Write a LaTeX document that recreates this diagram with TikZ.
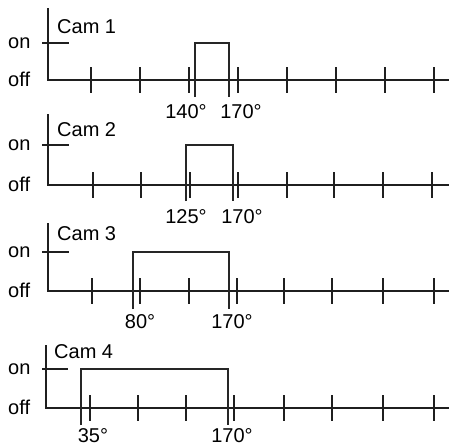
\documentclass[tikz,border=0pt]{standalone}
\usepackage{fontspec}
\setmainfont{Liberation Sans}
\usepackage{tikz}
\usetikzlibrary{positioning}

\begin{document}
\begin{tikzpicture}[x=1pt, y=-1pt,
  axis/.style={line width=2.2pt, draw=black!88},
  tick/.style={line width=2.8pt, draw=black!88},
  pulse/.style={line width=2.2pt, draw=black!85},
  lvl/.style={anchor=west, inner sep=0pt, font=\fontsize{20}{24}\selectfont},
  cam/.style={anchor=west, inner sep=0pt, font=\fontsize{20}{24}\selectfont},
  deg/.style={inner sep=0pt, font=\fontsize{20}{24}\selectfont}
]
\useasboundingbox (0,0) rectangle (449,447);

% Cam 1
\draw[axis] (48,8) -- (48,80) -- (449,80);
\draw[tick] (42,43) -- (69,43);
\foreach \x in {91,140,189,238,287,336,385,434}
  \draw[tick] (\x,67) -- (\x,93);
\draw[pulse] (195,97) -- (195,43) -- (229,43) -- (229,97);
\node[lvl] (on1)  at (8,43) {on};
\node[lvl] (off1) at (8,79) {off};
\node[cam] (cam1) at (57,27) {Cam 1};
\node[deg] (a1) at (186,112) {140°};
\node[deg] (b1) at (241,112) {170°};

% Cam 2
\draw[axis] (48,114) -- (48,185) -- (449,185);
\draw[tick] (42,145) -- (69,145);
\foreach \x in {93,141,190,238,287,334,383,432}
  \draw[tick] (\x,172) -- (\x,198);
\draw[pulse] (186,201) -- (186,145) -- (233,145) -- (233,201);
\node[lvl] (on2)  at (8,145) {on};
\node[lvl] (off2) at (8,184) {off};
\node[cam] (cam2) at (57,130) {Cam 2};
\node[deg] (a2) at (186,217) {125°};
\node[deg] (b2) at (242,217) {170°};

% Cam 3
\draw[axis] (48,223) -- (48,291) -- (449,291);
\draw[tick] (42,252) -- (69,252);
\foreach \x in {92,140,189,237,284,332,383,434}
  \draw[tick] (\x,278) -- (\x,304);
\draw[pulse] (133,309) -- (133,252) -- (229,252) -- (229,309);
\node[lvl] (on3)  at (8,252) {on};
\node[lvl] (off3) at (8,290) {off};
\node[cam] (cam3) at (57,234) {Cam 3};
\node[deg] (a3) at (140,322) {80°};
\node[deg] (b3) at (232,322) {170°};

% Cam 4
\draw[axis] (46,345) -- (46,408) -- (449,408);
\draw[tick] (42,369) -- (68,369);
\foreach \x in {90,138,186,234,284,332,383,434}
  \draw[tick] (\x,395) -- (\x,421);
\draw[pulse] (81,425) -- (81,369) -- (228,369) -- (228,425);
\node[lvl] (on4)  at (8,369) {on};
\node[lvl] (off4) at (8,407) {off};
\node[cam] (cam4) at (54,352) {Cam 4};
\node[deg] (a4) at (93,436) {35°};
\node[deg] (b4) at (232,436) {170°};

\end{tikzpicture}
\end{document}
